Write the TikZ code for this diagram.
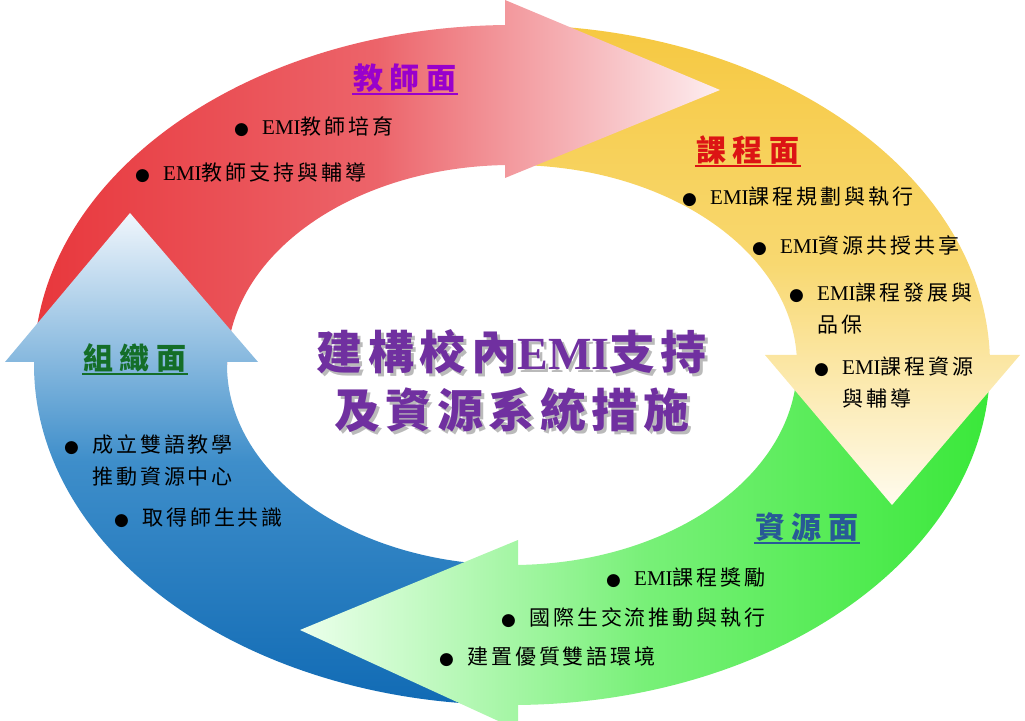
\documentclass[tikz,border=0pt]{standalone}
\usepackage{fontspec}
\usepackage{tikz}
\setmainfont[LetterSpace=14]{Noto Sans CJK TC}
\newfontfamily\headfont[LetterSpace=22]{Noto Sans CJK TC}
\newfontfamily\titlefont[LetterSpace=12]{Noto Sans CJK TC}
\newfontfamily\latinfont{Liberation Serif}
\newfontfamily\symfont{DejaVu Sans}
\definecolor{redA}{RGB}{232,55,60}
\definecolor{redB}{RGB}{236,100,106}
\definecolor{redC}{RGB}{253,238,240}
\definecolor{yellowA}{RGB}{246,200,64}
\definecolor{yellowB}{RGB}{248,216,112}
\definecolor{yellowC}{RGB}{255,251,238}
\definecolor{greenA}{RGB}{58,232,58}
\definecolor{greenB}{RGB}{120,240,120}
\definecolor{greenC}{RGB}{236,255,236}
\definecolor{blueA}{RGB}{16,106,180}
\definecolor{blueB}{RGB}{62,142,202}
\definecolor{blueC}{RGB}{240,246,252}
\definecolor{teacherc}{RGB}{153,0,204}
\definecolor{coursec}{RGB}{220,20,20}
\definecolor{orgc}{RGB}{20,110,40}
\definecolor{resc}{RGB}{40,90,150}
\definecolor{titlec}{RGB}{112,48,160}
\newcommand{\emi}{{\latinfont EMI}}
\newcommand{\bul}{\makebox[28pt][l]{\symfont\fontsize{17}{17}\selectfont ●}}
\newcommand{\gap}{\hspace*{28pt}}
% quarter of the ring, from angle #1 to angle #2
\newcommand{\band}[2]{([shift={(512,355)}]#1:478 and 340) arc[start angle=#1, end angle=#2, x radius=478, y radius=340] -- ([shift={(512,355)}]#2:285 and 200) arc[start angle=#2, end angle=#1, x radius=285, y radius=200] -- cycle}
\newcommand{\paint}[3]{\begin{scope}\clip #1;\shade[#2] #3;\end{scope}}
\tikzstyle{item} = [anchor=base west, inner sep=0pt, align=left, font=\fontsize{21}{32}\selectfont]
\tikzstyle{heading} = [inner sep=1pt, font=\headfont\fontsize{30}{36}\selectfont\bfseries]
\tikzstyle{underline} = [line width=2pt]
\tikzstyle{title} = [align=center, font=\titlefont\fontsize{46}{58}\selectfont\bfseries]
\tikzstyle{redshade} = [left color=redA, right color=redC, middle color=redB]
\tikzstyle{yellowshade} = [top color=yellowA, bottom color=yellowC, middle color=yellowB]
\tikzstyle{greenshade} = [left color=greenC, right color=greenA, middle color=greenB]
\tikzstyle{blueshade} = [top color=blueC, bottom color=blueA, middle color=blueB]
\begin{document}
\begin{tikzpicture}[x=1pt, y=1pt]
        \useasboundingbox (0,0) rectangle (1025,720);

        % bands of the ring
        \paint{\band{180}{90}}{redshade}{(34,350) rectangle (720,720)}
        \paint{\band{90}{0}}{yellowshade}{(500,215) rectangle (1025,700)}
        \paint{\band{0}{-90}}{greenshade}{(300,-20) rectangle (990,360)}
        \paint{\band{-90}{-182}}{blueshade}{(0,10) rectangle (520,507)}

        % arrow heads
        \paint{(505,720) -- (720,630) -- (505,542) -- cycle}{redshade}{(34,350) rectangle (720,720)}
        \paint{(765,365) -- (1020,365) -- (892,215) -- cycle}{yellowshade}{(500,215) rectangle (1025,700)}
        \paint{(518,180) -- (300,90) -- (518,-10) -- cycle}{greenshade}{(300,-20) rectangle (990,360)}
        \paint{(5,358) -- (130,507) -- (258,358) -- cycle}{blueshade}{(0,10) rectangle (520,507)}

        % headings
        \node (h0) [heading, text=teacherc] at (405,642) {教師面};
        \node (h1) [heading, text=coursec] at (748,570) {課程面};
        \node (h2) [heading, text=resc] at (807,193) {資源面};
        \node (h3) [heading, text=orgc] at (135,362) {組織面};
        \draw [underline, teacherc] (h0.south west) -- (h0.south east);
        \draw [underline, coursec] (h1.south west) -- (h1.south east);
        \draw [underline, resc] (h2.south west) -- (h2.south east);
        \draw [underline, orgc] (h3.south west) -- (h3.south east);

        % items (base = last line)
        \node (i1) [item] at (234,585) {\bul\emi 教師培育};
        \node (i2) [item] at (135,539) {\bul\emi 教師支持與輔導};
        \node (i3) [item] at (682,515) {\bul\emi 課程規劃與執行};
        \node (i4) [item] at (752,466) {\bul\emi 資源共授共享};
        \node (i5) [item] at (789,387) {\bul\emi 課程發展與\\\gap 品保};
        \node (i6) [item] at (814,313) {\bul\emi 課程資源\\\gap 與輔導};
        \node (i7) [item] at (64,235) {\bul 成立雙語教學\\\gap 推動資源中心};
        \node (i8) [item] at (114,194) {\bul 取得師生共識};
        \node (i9) [item] at (606,134) {\bul\emi 課程獎勵};
        \node (i10) [item] at (501,94) {\bul 國際生交流推動與執行};
        \node (i11) [item] at (439,55) {\bul 建置優質雙語環境};

        % centre title with its shadow
        \node (shadow) [title, text=black!45, opacity=0.6] at (515,336) {建構校內{\latinfont\bfseries EMI}支持\\及資源系統措施};
        \node (title) [title, text=titlec] at (512,339) {建構校內{\latinfont\bfseries EMI}支持\\及資源系統措施};
    \end{tikzpicture}
\end{document}
